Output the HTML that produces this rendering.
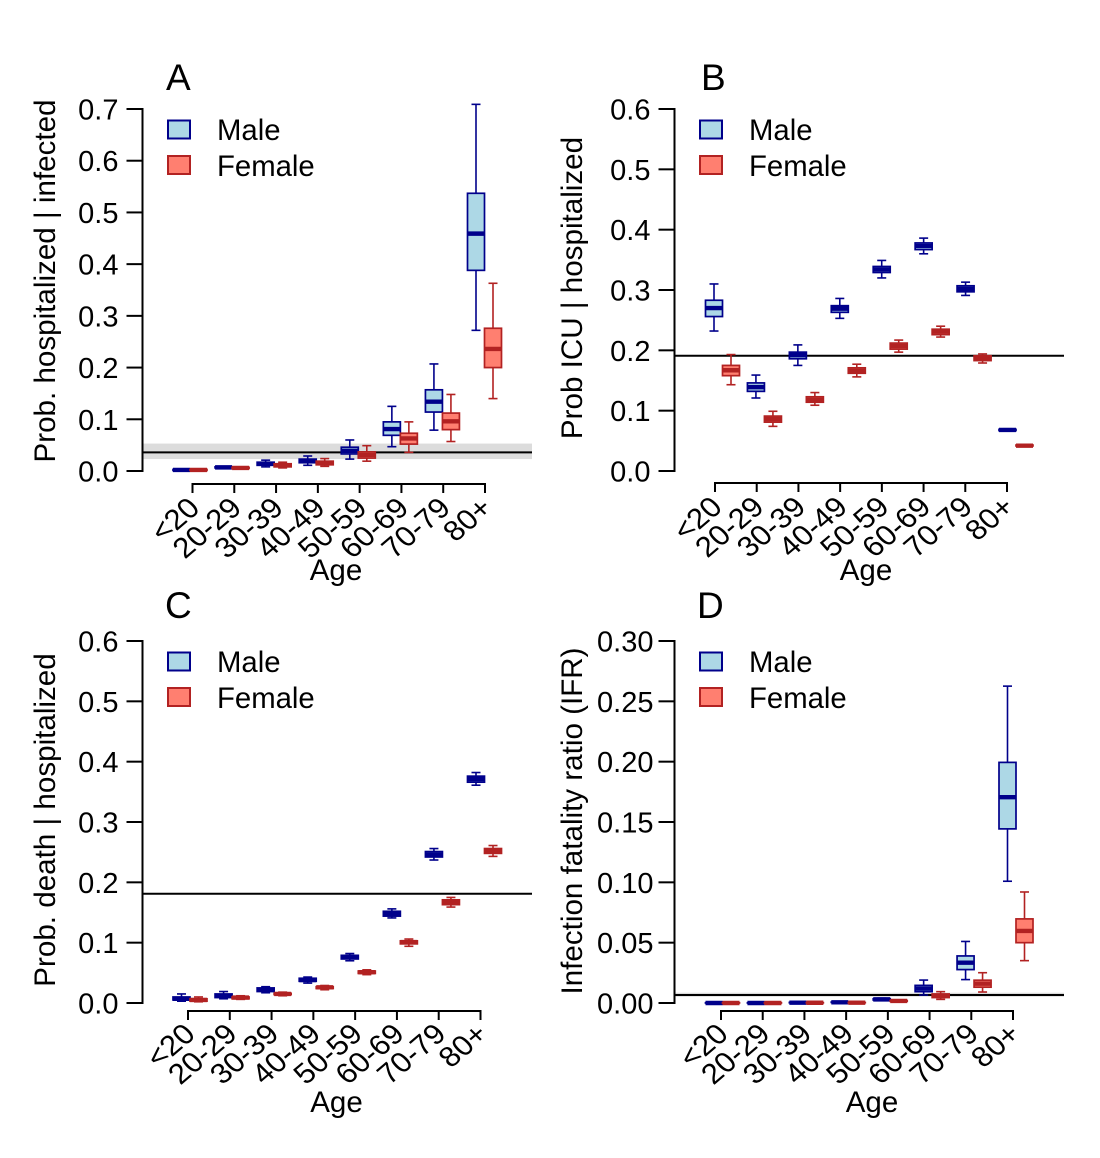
<!DOCTYPE html>
<html>
<head>
<meta charset="utf-8">
<style>
html,body{margin:0;padding:0;background:#fff;}
svg{display:block;filter:blur(0.35px);}
text{font-family:"Liberation Sans",sans-serif;fill:#000;font-size:29px;}
.letter{font-size:37px;}
.ytitle{font-size:29.6px;}
.xtitle{font-size:29.5px;}
.legend-label{font-size:29.3px;}
.xtick-label{font-size:30px;}
</style>
</head>
<body>
<svg id="chart" width="1100" height="1158" viewBox="0 0 1100 1158" xmlns="http://www.w3.org/2000/svg">
  <g id="panel-a">
    <text class="letter" x="166" y="90">A</text>
    <text class="ytitle" x="0" y="0" text-anchor="middle" transform="translate(55,281) rotate(-90)">Prob. hospitalized | infected</text>
    <text class="xtitle" x="336" y="580" text-anchor="middle">Age</text>
    <g>
      <rect x="168" y="120.500" width="22" height="18" fill="#add8e6" stroke="#00008b" stroke-width="2"/>
      <text class="legend-label" x="217" y="140">Male</text>
      <rect x="168" y="156" width="22" height="18" fill="#ff7f70" stroke="#b22222" stroke-width="2"/>
      <text class="legend-label" x="217" y="176">Female</text>
    </g>
  </g>
  <g id="panel-b">
    <text class="letter" x="701" y="90">B</text>
    <text class="ytitle" x="0" y="0" text-anchor="middle" transform="translate(582,288) rotate(-90)">Prob ICU | hospitalized</text>
    <text class="xtitle" x="866" y="580" text-anchor="middle">Age</text>
    <g>
      <rect x="700" y="120.500" width="22" height="18" fill="#add8e6" stroke="#00008b" stroke-width="2"/>
      <text class="legend-label" x="749" y="140">Male</text>
      <rect x="700" y="156" width="22" height="18" fill="#ff7f70" stroke="#b22222" stroke-width="2"/>
      <text class="legend-label" x="749" y="176">Female</text>
    </g>
  </g>
  <g id="panel-c">
    <text class="letter" x="165" y="618">C</text>
    <text class="ytitle" x="0" y="0" text-anchor="middle" transform="translate(55,820) rotate(-90)">Prob. death | hospitalized</text>
    <text class="xtitle" x="336.500" y="1112" text-anchor="middle">Age</text>
    <g>
      <rect x="168" y="652.500" width="22" height="18" fill="#add8e6" stroke="#00008b" stroke-width="2"/>
      <text class="legend-label" x="217" y="672">Male</text>
      <rect x="168" y="688" width="22" height="18" fill="#ff7f70" stroke="#b22222" stroke-width="2"/>
      <text class="legend-label" x="217" y="708">Female</text>
    </g>
  </g>
  <g id="panel-d">
    <text class="letter" x="697" y="618">D</text>
    <text class="ytitle" x="0" y="0" text-anchor="middle" transform="translate(582,821) rotate(-90)">Infection fatality ratio (IFR)</text>
    <text class="xtitle" x="872" y="1112" text-anchor="middle">Age</text>
    <g>
      <rect x="700" y="652.500" width="22" height="18" fill="#add8e6" stroke="#00008b" stroke-width="2"/>
      <text class="legend-label" x="749" y="672">Male</text>
      <rect x="700" y="688" width="22" height="18" fill="#ff7f70" stroke="#b22222" stroke-width="2"/>
      <text class="legend-label" x="749" y="708">Female</text>
    </g>
  </g>
</svg>
<script>
const ageGroups = ['<20','20-29','30-39','40-49','50-59','60-69','70-79','80+'];

const ticksA = ['0.0','0.1','0.2','0.3','0.4','0.5','0.6','0.7'];
const ticksB = ['0.0','0.1','0.2','0.3','0.4','0.5','0.6'];
const ticksC = ['0.0','0.1','0.2','0.3','0.4','0.5','0.6'];
const ticksD = ['0.00','0.05','0.10','0.15','0.20','0.25','0.30'];

// Each row: low whisker, lower quartile, median, upper quartile, high whisker
const maleA = [
  [.001,.001,.002,.003,.003],[.005,.006,.007,.008,.009],[.008,.011,.014,.017,.021],[.011,.016,.019,.023,.029],
  [.023,.033,.039,.046,.060],[.047,.069,.081,.095,.125],[.079,.114,.134,.157,.207],[.272,.388,.459,.537,.709]
];
const femaleA = [
  [.001,.001,.002,.003,.003],[.004,.005,.006,.007,.008],[.006,.008,.011,.014,.017],[.009,.012,.015,.019,.024],
  [.019,.025,.031,.037,.049],[.036,.052,.063,.073,.095],[.057,.080,.096,.112,.148],[.140,.200,.236,.276,.363]
];
const referenceA = [.036];
const referenceBandA = [.023,.053];

const maleB = [
  [.232,.256,.270,.283,.310],[.121,.132,.139,.146,.159],[.175,.186,.192,.197,.209],[.253,.263,.269,.274,.286],
  [.320,.329,.334,.339,.349],[.360,.367,.373,.378,.386],[.291,.297,.302,.307,.313],[.066,.067,.068,.069,.070]
];
const femaleB = [
  [.143,.158,.167,.175,.193],[.074,.081,.086,.091,.099],[.109,.114,.118,.123,.130],[.156,.162,.166,.171,.177],
  [.197,.202,.207,.212,.217],[.222,.226,.231,.235,.240],[.179,.183,.187,.191,.194],[.041,.0415,.042,.043,.044]
];
const referenceB = [.191];
const referenceBandB = [.190,.192];

const maleC = [
  [.003,.005,.007,.010,.015],[.007,.009,.012,.015,.019],[.017,.019,.022,.025,.027],[.033,.036,.038,.041,.043],
  [.070,.073,.076,.079,.082],[.141,.144,.148,.152,.156],[.237,.242,.246,.251,.256],[.361,.366,.371,.376,.382]
];
const femaleC = [
  [.002,.003,.005,.007,.010],[.006,.007,.009,.010,.012],[.012,.014,.015,.016,.018],[.022,.024,.026,.027,.029],
  [.047,.049,.051,.053,.055],[.094,.098,.101,.103,.106],[.159,.163,.167,.171,.175],[.243,.248,.252,.256,.261]
];
const referenceC = [.181];
const referenceBandC = [.180,.182];

const maleD = [
  [0,0,0,.0002,.0003],[0,0,0,.0002,.0003],[.0001,.0002,.0003,.0005,.0006],[.0003,.0005,.0006,.0008,.001],
  [.002,.0025,.003,.0035,.004],[.0066,.0094,.012,.0146,.019],[.0194,.0277,.0334,.039,.051],[.1009,.1443,.1706,.1994,.2626]
];
const femaleD = [
  [0,0,0,.0002,.0003],[0,0,0,.0002,.0003],[0,.0001,.0002,.0003,.0004],[.0001,.0002,.0003,.0004,.0005],
  [.001,.0014,.0017,.002,.0024],[.003,.0045,.006,.0075,.0094],[.0091,.0131,.016,.0189,.0251],[.0351,.05,.0597,.0697,.092]
];
const referenceD = [.0066];
const referenceBandD = [.0052,.0085];

const NS = 'http://www.w3.org/2000/svg';

function make(parent, tag, attrs) {
  const el = document.createElementNS(NS, tag);
  for (const k in attrs) el.setAttribute(k, attrs[k]);
  parent.appendChild(el);
  return el;
}

function drawBox(parent, row, cx, halfW, yOf, stroke, fill, sex, age) {
  const g = make(parent, 'g', {});
  
  
  const [lo, q1, med, q3, hi] = row;
  const whiskerLow = make(g, 'line', {x1: cx, x2: cx, y1: yOf(lo), y2: yOf(q1), stroke: stroke, 'stroke-width': 1.6});
  
  
  const whiskerHigh = make(g, 'line', {x1: cx, x2: cx, y1: yOf(hi), y2: yOf(q3), stroke: stroke, 'stroke-width': 1.6});
  
  
  const capLow = make(g, 'line', {x1: cx - 4.5, x2: cx + 4.5, y1: yOf(lo), y2: yOf(lo), stroke: stroke, 'stroke-width': 1.6});
  
  
  const capHigh = make(g, 'line', {x1: cx - 4.5, x2: cx + 4.5, y1: yOf(hi), y2: yOf(hi), stroke: stroke, 'stroke-width': 1.6});
  
  
  const box = make(g, 'rect', {x: cx - halfW, y: yOf(q3), width: halfW * 2, height: Math.max(0.1, yOf(q1) - yOf(q3)), fill: fill, stroke: stroke, 'stroke-width': 1.7});
  
  
  const median = make(g, 'line', {x1: cx - halfW, x2: cx + halfW, y1: yOf(med), y2: yOf(med), stroke: stroke, 'stroke-width': 4.4});
  
  
}

function drawPanel(id, male, female, yTicks, yMax, reference, band, frame) {
  const root = document.getElementById(id);
  const yOf = v => frame.y0 + (frame.yTop - frame.y0) * v / yMax;
  const tickX = i => frame.tick0 + (frame.tick1 - frame.tick0) * i / (ageGroups.length - 1);
  const pairX = i => frame.pair0 + (frame.pair1 - frame.pair0) * i / (ageGroups.length - 1);

  const bandRect = make(root, 'rect', {x: frame.axisX, y: yOf(band[1]), width: frame.lineEnd - frame.axisX, height: yOf(band[0]) - yOf(band[1]), fill: '#dcdcdc'});
  
  
  const refLine = make(root, 'line', {x1: frame.axisX, x2: frame.lineEnd, y1: yOf(reference[0]), y2: yOf(reference[0]), stroke: '#000', 'stroke-width': 2});
  
  

  const yAxis = make(root, 'line', {x1: frame.axisX, x2: frame.axisX, y1: frame.y0 + 1, y2: frame.yTop - 1, stroke: '#000', 'stroke-width': 2});
  
  
  yTicks.forEach(label => {
    const y = yOf(parseFloat(label));
    const tick = make(root, 'line', {x1: frame.axisX - 16, x2: frame.axisX, y1: y, y2: y, stroke: '#000', 'stroke-width': 2});
    
    
    const text = make(root, 'text', {x: frame.axisX - frame.labelGap, y: y + 10.5, 'text-anchor': 'end'});
    text.textContent = label;
    
    
  });

  const xAxis = make(root, 'line', {x1: tickX(0) - 1, x2: tickX(ageGroups.length - 1) + 1, y1: frame.xAxisY, y2: frame.xAxisY, stroke: '#000', 'stroke-width': 2});
  
  
  ageGroups.forEach((label, i) => {
    const x = tickX(i);
    const tick = make(root, 'line', {x1: x, x2: x, y1: frame.xAxisY, y2: frame.xAxisY + 9, stroke: '#000', 'stroke-width': 2});
    
    
    const text = make(root, 'text', {class: 'xtick-label', 'text-anchor': 'end', transform: 'translate(' + (x + 9) + ',' + (frame.xAxisY + frame.labelDy) + ') scale(1.04,0.95) rotate(-43)'});
    text.textContent = label;
    
    
  });

  ageGroups.forEach((label, i) => {
    const c = pairX(i);
    drawBox(root, male[i], c - 8.5, 8.5, yOf, '#00008b', '#add8e6', 'male', label);
    drawBox(root, female[i], c + 8.5, 8.5, yOf, '#b22222', '#ff7f70', 'female', label);
  });
}

drawPanel('panel-a', maleA, femaleA, ticksA, 0.7, referenceA, referenceBandA,
  {axisX: 142.5, lineEnd: 532, y0: 471, yTop: 109, tick0: 192.5, tick1: 485, pair0: 190, pair1: 484.5, xAxisY: 484, labelGap: 24, labelDy: 26});
drawPanel('panel-b', maleB, femaleB, ticksB, 0.6, referenceB, referenceBandB,
  {axisX: 674.5, lineEnd: 1064, y0: 471, yTop: 109, tick0: 715, tick1: 1007, pair0: 722.5, pair1: 1016, xAxisY: 483, labelGap: 24, labelDy: 26});
drawPanel('panel-c', maleC, femaleC, ticksC, 0.6, referenceC, referenceBandC,
  {axisX: 142.5, lineEnd: 532, y0: 1003, yTop: 641, tick0: 188, tick1: 480.5, pair0: 190, pair1: 484.5, xAxisY: 1011, labelDy: 25, labelGap: 24});
drawPanel('panel-d', maleD, femaleD, ticksD, 0.3, referenceD, referenceBandD,
  {axisX: 674.5, lineEnd: 1064, y0: 1003, yTop: 641, tick0: 721, tick1: 1013, pair0: 722.5, pair1: 1016, xAxisY: 1011, labelDy: 25, labelGap: 21});
</script>
</body>
</html>
